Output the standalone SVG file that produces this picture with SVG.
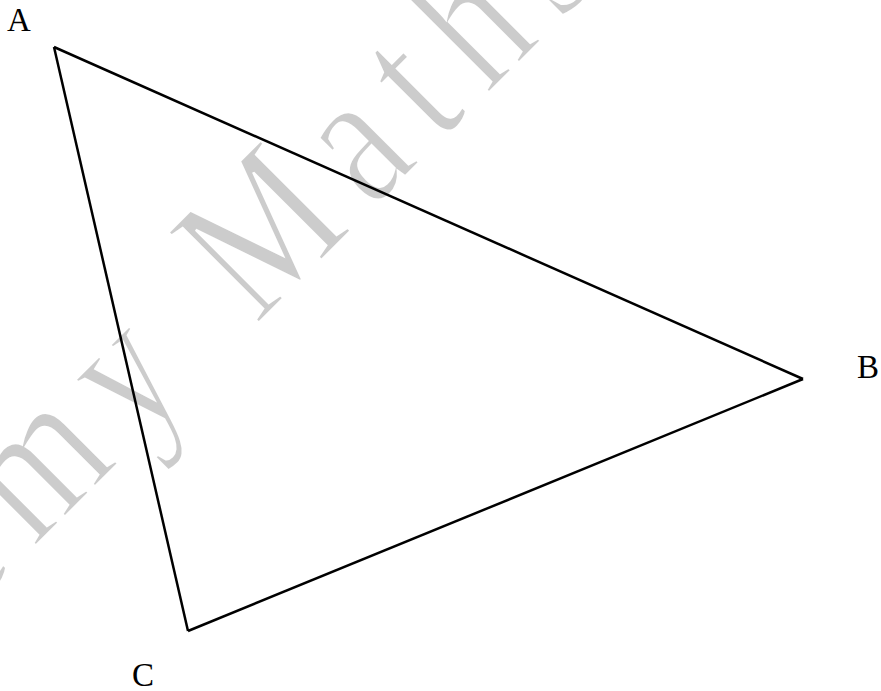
<svg xmlns="http://www.w3.org/2000/svg" width="881" height="691" viewBox="0 0 881 691">
<style>
.lbl{font-family:"Liberation Serif","Times New Roman",serif;font-size:33px;fill:#000}
.wm{font-family:"Liberation Serif","Times New Roman",serif;font-size:196px;letter-spacing:31px;fill:#cccccc;stroke:#ffffff;stroke-width:3}
.edge{fill:none;stroke:#000;stroke-width:2.5;stroke-linejoin:miter}
</style>
<rect width="881" height="691" fill="#fff"/>
<g id="watermark">
<text class="wm" transform="translate(262,320) rotate(-45) scale(0.8,1)" x="-1059" y="0">Academy Maths</text>
</g>
<g id="connectors">
<line class="edge" x1="54" y1="47" x2="803" y2="379"/>
<line class="edge" x1="803" y1="379" x2="188" y2="631"/>
<line class="edge" x1="188" y1="631" x2="54" y2="47"/>
</g>
<g id="A"><text class="lbl" x="7" y="31">A</text></g>
<g id="B"><text class="lbl" x="857" y="378">B</text></g>
<g id="C"><text class="lbl" x="132" y="686">C</text></g>
</svg>
